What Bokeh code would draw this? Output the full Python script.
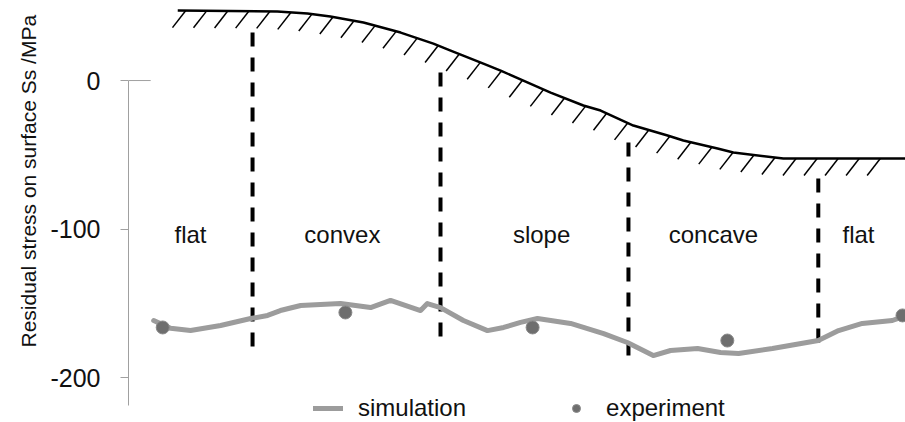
from bokeh.plotting import figure
from bokeh.models import Range1d, FixedTicker, Legend, LegendItem, Title
from bokeh.embed import file_html
from bokeh.resources import INLINE
from bokeh.core.properties import value
import numpy as np

# ---- data (position along the profile, arbitrary units; stress in MPa) ----
sim_x = [2.37, 2.82, 3.35, 4.15, 4.95, 5.40, 5.74, 6.28, 7.34, 8.14, 8.67, 9.47, 9.65,
         10.0, 10.61, 11.25, 11.68, 12.13, 12.58, 13.46, 14.34, 14.97, 15.66, 16.12,
         16.84, 17.45, 17.93, 18.83, 20.05, 20.59, 21.22, 22.02, 22.40]
sim_y = [-161.6, -166.9, -168.4, -165.0, -160.3, -158.2, -154.9, -151.5, -150.2, -152.9,
         -148.1, -154.9, -150.2, -152.9, -161.6, -168.4, -166.3, -162.9, -160.3, -163.6,
         -170.4, -176.4, -185.2, -181.8, -180.5, -183.2, -183.8, -180.5, -175.1, -168.4,
         -163.6, -161.6, -158.2]

exp_x = [2.61, 7.47, 12.45, 17.63, 22.29]
exp_y = [-166.3, -156.2, -166.3, -175.1, -158.2]

# schematic surface profile drawn above the plot
surf_x = [3.01, 5.66, 6.46, 7.07, 7.95, 8.94, 9.81, 10.27, 11.14, 11.60, 12.31, 12.93,
          13.80, 14.26, 15.13, 16.04, 16.46, 17.37, 17.79, 19.12, 22.37]
surf_y = [47.1, 46.5, 45.1, 43.1, 39.1, 32.3, 24.9, 20.2, 11.4, 6.7, -1.3, -8.1,
          -16.8, -20.2, -30.3, -37.0, -40.4, -45.8, -48.5, -52.5, -52.5]

boundary_x = [5.0, 10.0, 15.0, 20.05]
boundary_top = [32.3, 5.4, -41.8, -66.0]
boundary_bottom = [-181.8, -179.8, -185.2, -183.2]

region_labels = ["flat", "convex", "slope", "concave", "flat"]
region_x = [3.35, 7.39, 12.69, 17.26, 21.12]
region_y = [-104.0] * 5

y_ticks = [0, -100, -200]
y_tick_labels = ["0", "-100", "-200"]

FONT = "Liberation Sans"

p = figure(width=905, height=422, output_backend="svg", toolbar_location=None,
           x_range=Range1d(1.70, 22.37), y_range=Range1d(-230.3, 53.9),
           x_axis_location=None, min_border_left=128, min_border_right=0,
           min_border_top=0, min_border_bottom=0)
p.outline_line_color = None
p.grid.visible = False
p.background_fill_color = "white"
p.border_fill_color = "white"

ax = p.yaxis[0]
ax.ticker = FixedTicker(ticks=y_ticks)
ax.major_label_overrides = {t: l for t, l in zip(y_ticks, y_tick_labels)}
ax.bounds = (-219, 0)
ax.axis_line_color = "#a0a0a0"
ax.axis_line_width = 1
ax.major_tick_line_color = "#a0a0a0"
ax.major_tick_out = 8
ax.major_tick_in = 0
ax.minor_tick_line_color = None
ax.major_label_text_font = FONT
ax.major_label_text_font_size = "25px"
ax.major_label_text_color = "#111111"
ax.major_label_standoff = 20

# small extension of the zero tick
p.segment(x0=[1.70], y0=[0], x1=[2.29], y1=[0], line_color="#a0a0a0", line_width=1)

# surface profile with hatching
p.line(surf_x, surf_y, line_color="black", line_width=2.5, line_join="round")
hx = np.arange(3.22, 22.2, 0.56)
hy = np.interp(hx, surf_x, surf_y)
p.segment(x0=hx, y0=hy, x1=hx - 0.35, y1=hy - 11.4, line_color="black", line_width=1.5)

# region boundaries
p.segment(x0=boundary_x, y0=boundary_top, x1=boundary_x, y1=boundary_bottom,
          line_color="black", line_width=4, line_dash="14 11")

# region names
p.text(x=region_x, y=region_y, text=region_labels, text_font=value(FONT),
       text_font_size="24px", text_align="center", text_baseline="alphabetic",
       text_color="#111111")

# data
sim = p.line(sim_x, sim_y, line_color="#9c9c9c", line_width=5, line_join="round",
             line_cap="round")
exp = p.scatter(exp_x, exp_y, size=13, fill_color="#6e6e6e", line_color="#8a8a8a",
                line_width=1)

legend = Legend(items=[LegendItem(label="simulation", renderers=[sim]),
                       LegendItem(label="experiment", renderers=[exp])],
                orientation="horizontal", location=(185, 0), padding=0, margin=0,
                spacing=95, glyph_width=30, glyph_height=20, label_standoff=15,
                label_text_font=FONT, label_text_font_size="24px",
                label_text_color="#111111", border_line_color=None,
                background_fill_alpha=0)
p.add_layout(legend, "center")

p.add_layout(Title(text="Residual stress on surface Ss /MPa", align="left", offset=75,
                   text_font=FONT, text_font_size="21px", text_font_style="normal",
                   text_color="#111111", standoff=16), "left")

open("out.html", "w").write(file_html(p, INLINE))
